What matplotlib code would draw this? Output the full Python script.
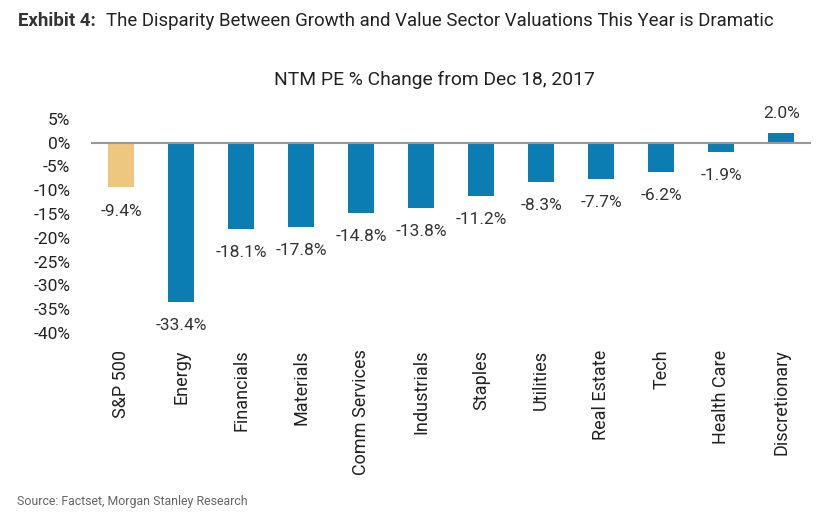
import matplotlib
matplotlib.use("Agg")
import matplotlib.pyplot as plt
from matplotlib.ticker import FuncFormatter

plt.rcParams['font.family'] = ['Roboto', 'DejaVu Sans']

categories = ["S&P 500", "Energy", "Financials", "Materials", "Comm Services",
              "Industrials", "Staples", "Utilities", "Real Estate", "Tech",
              "Health Care", "Discretionary"]
values = [-9.4, -33.4, -18.1, -17.8, -14.8, -13.8, -11.2, -8.3, -7.7, -6.2, -1.9, 2.0]
yticks = [5, 0, -5, -10, -15, -20, -25, -30, -35, -40]

blue = "#0B7DB3"
gold = "#EDC67F"
colors = [gold] + [blue] * (len(values) - 1)

fig = plt.figure(figsize=(8.27, 5.17), dpi=100)
ax = fig.add_axes([0.110, 0.356, 0.871, 0.414])

x = list(range(len(categories)))
ax.bar(x, values, width=0.43, color=colors, zorder=2)
ax.axhline(0, color="#999999", lw=1.5, zorder=3)

ax.set_xlim(-0.5, 11.5)
ax.set_ylim(-40, 5)
ax.set_yticks(yticks)
ax.yaxis.set_major_formatter(FuncFormatter(lambda v, p: f"{v:.0f}%"))
ax.tick_params(axis='y', length=0, pad=15, labelsize=12.5, labelcolor="#222222")
ax.set_xticks(x)
ax.set_xticklabels(categories, rotation=90, va='top', ha='center')
ax.tick_params(axis='x', length=0, pad=12, labelsize=13, labelcolor="#222222")
for s in ax.spines.values():
    s.set_visible(False)

for xi, v in zip(x, values):
    if v < 0:
        ax.annotate(f"{v:.1f}%", (xi, v), xytext=(0, -17), textcoords='offset points',
                    ha='center', va='center', fontsize=12.5, color="#333333")
    else:
        ax.annotate(f"{v:.1f}%", (xi, v), xytext=(0, 14), textcoords='offset points',
                    ha='center', va='center', fontsize=12.5, color="#333333")

fig.text(0.525, 0.845, "NTM PE % Change from Dec 18, 2017", ha='center', va='center',
         fontsize=13.9, color="#222222")

fig.text(0.022, 0.960, "Exhibit 4:", ha='left', va='center', fontsize=13.4, fontweight='bold', color="#333333")
fig.text(0.128, 0.960, "The Disparity Between Growth and Value Sector Valuations This Year is Dramatic",
         ha='left', va='center', fontsize=13.4, color="#222222")
fig.text(0.020, 0.030, "Source: Factset, Morgan Stanley Research", ha='left', va='center',
         fontsize=8.9, color="#666666")

fig.savefig("out.png", dpi=100)
